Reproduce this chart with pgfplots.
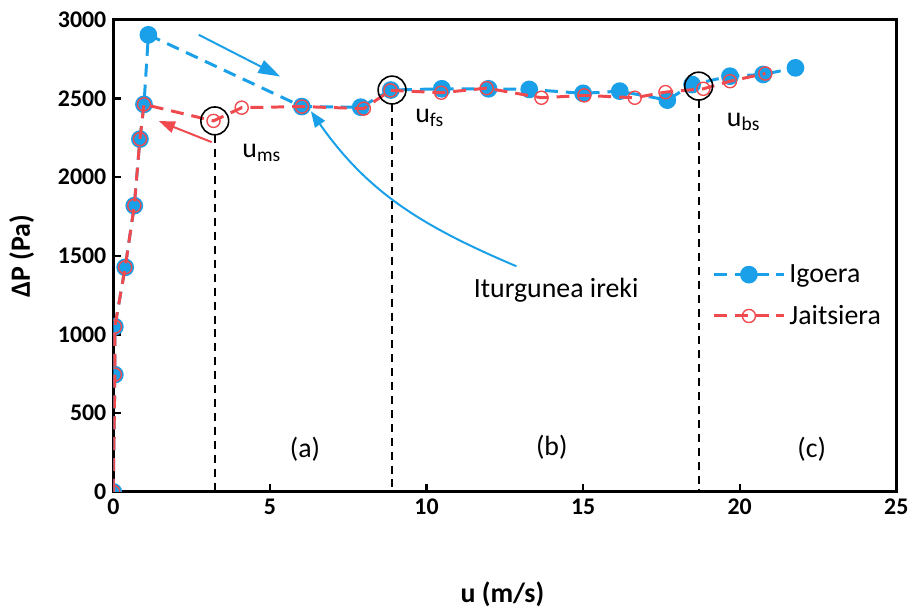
\documentclass[border=0pt]{standalone}
\usepackage{pgfplots}
\pgfplotsset{compat=1.18}
\usepackage{fontspec}
\setmainfont{Carlito}
\usetikzlibrary{arrows.meta}
\definecolor{cblue}{HTML}{1AA0E8}
\definecolor{cred}{HTML}{F04A4E}
\begin{document}
\begin{tikzpicture}
\begin{axis}[
  scale only axis, width=394pt, height=237.5pt,
  xmin=0, xmax=25, ymin=0, ymax=3000,
  clip marker paths=true,
  xtick={0,5,...,25}, ytick={0,500,...,3000},
  xtick pos=left, ytick pos=left, tick align=inside,
  major tick length=4pt,
  tick style={black, line width=1.2pt},
  axis line style={line width=1.5pt},
  ticklabel style={font=\bfseries\fontsize{12}{14}\selectfont},
  /pgf/number format/assume math mode=true,
  /pgf/number format/1000 sep={},
  xlabel={u (m/s)}, ylabel={ΔP (Pa)},
  label style={font=\bfseries\fontsize{14}{16}\selectfont},
  xlabel style={at={(axis description cs:0.497,-0.217)},anchor=center},
  ylabel style={at={(axis description cs:-0.117,0.499)},anchor=center},
  legend style={draw=none, fill=none, at={(axis description cs:0.757,0.50)}, anchor=north west,
    font=\fontsize{14}{16}\selectfont, row sep=6pt},
  legend cell align=left,
  legend image code/.code={\draw[mark repeat=2,mark phase=2] plot coordinates {(0cm,0cm)(0.62cm,0cm)(1.24cm,0cm)};},
]
% Igoera
\addplot[cblue, line width=1.5pt, dash pattern=on 6.5pt off 4pt, mark=*, mark size=3.7pt,
  mark options={solid, fill=cblue, draw=cblue}] coordinates {
  (0,0) (0.05,745) (0.05,1050) (0.38,1427) (0.67,1819) (0.85,2242) (0.98,2463) (1.12,2905)
  (6.02,2449) (7.9,2445) (8.86,2554) (10.49,2562) (11.98,2562) (13.28,2558) (15.0,2533)
  (16.17,2547) (17.69,2490) (18.48,2589) (19.69,2642) (20.75,2653) (21.78,2695)};
\addlegendentry{Igoera}
% Jaitsiera
\addplot[cred, line width=1.5pt, dash pattern=on 6.5pt off 4pt, mark=o, mark size=3.3pt,
  mark options={solid, line width=0.7pt}] coordinates {
  (0,0) (0.05,745) (0.05,1050) (0.38,1427) (0.67,1819) (0.85,2242) (0.98,2463)
  (3.2,2358) (4.1,2442) (6.02,2449) (8.0,2436) (8.85,2552) (10.47,2537) (11.92,2566)
  (13.67,2505) (15.04,2520) (16.65,2505) (17.63,2541) (18.84,2562) (19.69,2610) (20.82,2659)};
\addlegendentry{Jaitsiera}
% transition markers
\addplot[black, line width=0.8pt, only marks, mark=o, mark size=7pt, forget plot]
  coordinates {(3.24,2358) (8.9,2554) (18.69,2579)};
\addplot[black, line width=0.9pt, dash pattern=on 4pt off 3pt, forget plot] coordinates {(3.24,2270) (3.24,0)};
\addplot[black, line width=0.9pt, dash pattern=on 4pt off 3pt, forget plot] coordinates {(8.9,2466) (8.9,0)};
\addplot[black, line width=0.9pt, dash pattern=on 4pt off 3pt, forget plot] coordinates {(18.69,2491) (18.69,0)};
% arrows
\draw[cblue, line width=1pt, -{Triangle[length=11pt,width=7pt]}] (axis cs:2.73,2905) -- (axis cs:5.33,2640);
\draw[cblue, line width=1pt, -{Triangle[length=8pt,width=6pt]}] (axis cs:12.87,1434) to[out=157,in=-55] (axis cs:6.31,2419);
\draw[cred, line width=1pt, -{Triangle[length=8pt,width=6pt]}] (axis cs:3.14,2223) -- (axis cs:1.46,2356);
% texts
\node[font=\fontsize{14}{16}\selectfont, anchor=base west] at (axis cs:3.90,2128) {u\textsubscript{ms}};
\node[font=\fontsize{14}{16}\selectfont, anchor=base west] at (axis cs:9.42,2350) {u\textsubscript{fs}};
\node[font=\fontsize{14}{16}\selectfont, anchor=base west] at (axis cs:19.37,2324) {u\textsubscript{bs}};
\node[font=\fontsize{14}{16}\selectfont] at (axis cs:6.12,272) {(a)};
\node[font=\fontsize{14}{16}\selectfont] at (axis cs:14.0,284) {(b)};
\node[font=\fontsize{14}{16}\selectfont] at (axis cs:22.3,272) {(c)};
\node[font=\fontsize{14}{16}\selectfont] at (axis cs:14.14,1282) {Iturgunea ireki};
\coordinate (bbl) at (rel axis cs:-0.1447,-0.2568);
\coordinate (btr) at (rel axis cs:1.0165,1.0421);
\end{axis}
\path (bbl) rectangle (btr);
\end{tikzpicture}
\end{document}
